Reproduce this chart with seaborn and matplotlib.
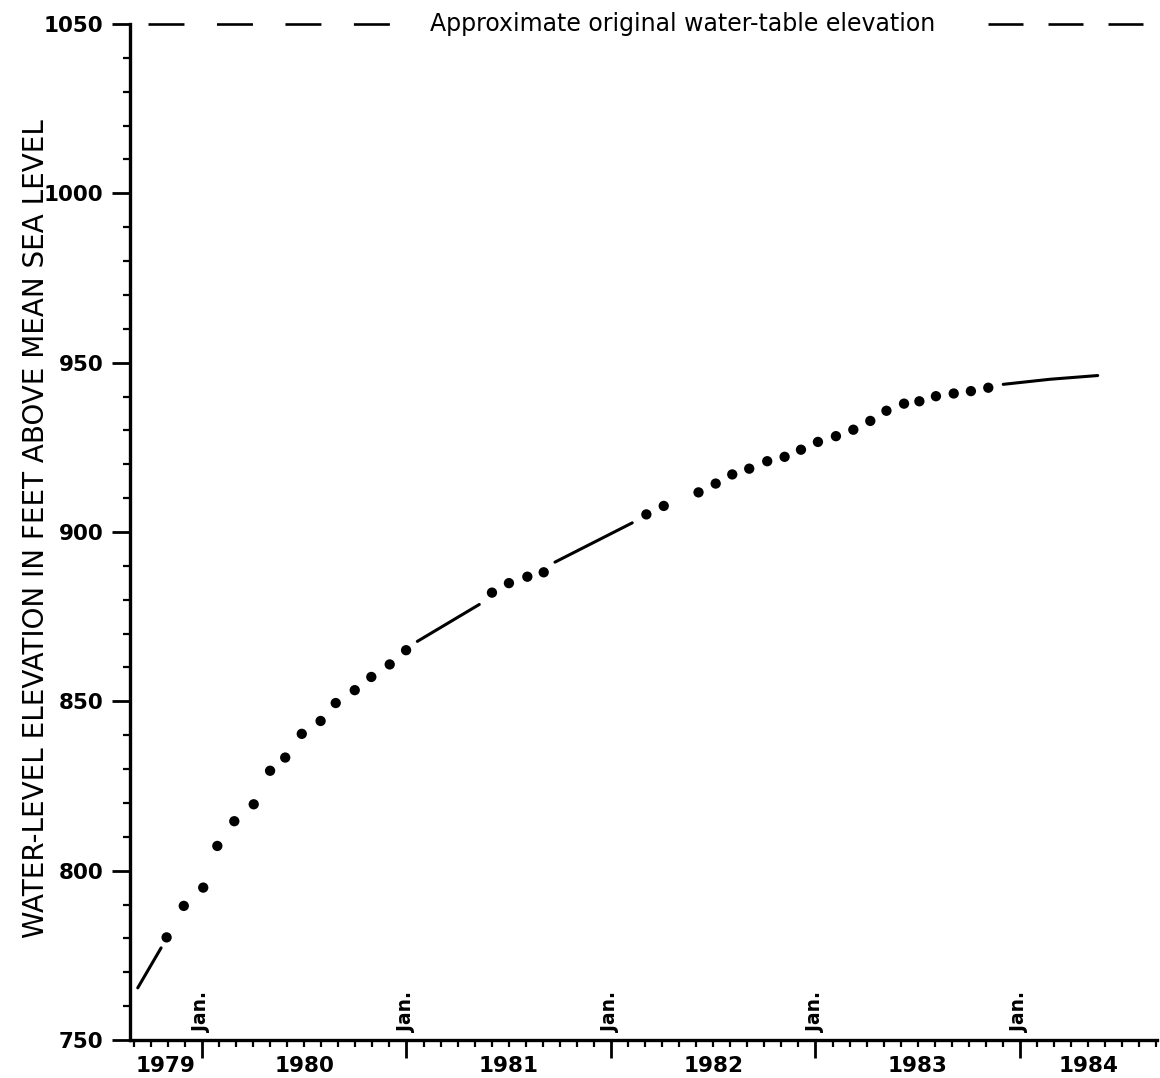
import numpy as np
import pandas as pd
import matplotlib
matplotlib.use('Agg')
import matplotlib.pyplot as plt
import seaborn as sns
from matplotlib.ticker import MultipleLocator, FixedLocator, NullFormatter

# measured water levels (decimal year, ft above msl)
dot_year = [1979.827, 1979.911, 1980.006, 1980.075, 1980.158, 1980.253, 1980.333, 1980.407,
            1980.488, 1980.580, 1980.654, 1980.747, 1980.828, 1980.918, 1980.998,
            1981.418, 1981.501, 1981.591, 1981.671,
            1982.173, 1982.258, 1982.428, 1982.512, 1982.593, 1982.676, 1982.764, 1982.849,
            1982.929, 1983.012, 1983.100, 1983.185, 1983.268, 1983.347, 1983.433, 1983.508,
            1983.589, 1983.676, 1983.760, 1983.845]
dot_level = [780.3, 789.6, 795.0, 807.3, 814.6, 819.6, 829.5, 833.4,
             840.4, 844.2, 849.5, 853.3, 857.2, 860.9, 865.1,
             882.1, 884.9, 886.8, 888.1,
             905.2, 907.7, 911.7, 914.3, 917.0, 918.7, 920.9, 922.2,
             924.3, 926.6, 928.3, 930.2, 932.8, 935.8, 937.9, 938.6,
             940.1, 940.9, 941.6, 942.6]

# continuous record segments
seg_year = [[1979.686, 1979.800], [1981.053, 1981.356], [1981.726, 1982.104],
            [1983.918, 1984.147, 1984.380]]
seg_level = [[765.4, 777.2], [867.7, 878.6], [891.1, 902.7], [943.6, 945.1, 946.2]]

original_level = 1050
original_label = 'Approximate original water-table elevation'
jan_years = [1980, 1981, 1982, 1983, 1984]
year_labels = ['1979', '1980', '1981', '1982', '1983', '1984']
y_ticks = [750, 800, 850, 900, 950, 1000, 1050]
ylabel = 'WATER-LEVEL ELEVATION IN FEET ABOVE MEAN SEA LEVEL'

x0, x1 = 1979.648, 1984.670

sns.set_theme(style='ticks')
plt.rcParams['font.family'] = ['DejaVu Sans']
plt.rcParams['lines.scale_dashes'] = False
for k in ['text.color', 'axes.labelcolor', 'xtick.color', 'ytick.color', 'axes.edgecolor']:
    plt.rcParams[k] = 'black'

fig = plt.figure(figsize=(11.6, 10.78), dpi=100)
ax = fig.add_axes([130/1160, 1 - 1040/1078, 1027/1160, 1016/1078])

df = pd.DataFrame({'year': dot_year, 'level': dot_level})
sns.scatterplot(data=df, x='year', y='level', ax=ax, color='black', s=55,
                edgecolor='none', zorder=3)
for xs, ys in zip(seg_year, seg_level):
    sns.lineplot(x=xs, y=ys, ax=ax, color='black', linewidth=2.2, zorder=3)

# dashed original water table line, broken by the label
left = [x0 + (148 - 130) / 204.5, x0 + (391 - 130) / 204.5]
right = [x0 + (988 - 130) / 204.5, x0 + (1143 - 130) / 204.5]
ax.plot(left, [original_level] * 2, color='black', lw=1.9, dashes=(25.9, 23.4), clip_on=False)
ax.plot(right, [original_level] * 2, color='black', lw=1.9, dashes=(25.2, 18), clip_on=False)
ax.text(x0 + (683 - 130) / 204.5, original_level, original_label, ha='center', va='center',
        fontsize=17, clip_on=False)

ax.set_xlim(x0, x1)
ax.set_ylim(750, 1050)
ax.yaxis.set_major_locator(FixedLocator(y_ticks))
ax.yaxis.set_minor_locator(MultipleLocator(10))
ax.xaxis.set_major_locator(FixedLocator(jan_years))
ax.xaxis.set_minor_locator(MultipleLocator(1 / 12))
ax.xaxis.set_major_formatter(NullFormatter())
ax.set_yticklabels([str(v) for v in y_ticks], fontsize=15.5, fontweight='bold')

ax.tick_params(which='major', direction='out', length=13, width=2, pad=6)
ax.tick_params(which='minor', direction='out', length=5, width=1.6)
sns.despine(ax=ax)
ax.spines['left'].set_linewidth(2.4)
ax.spines['bottom'].set_linewidth(2.4)

for yr in jan_years:
    ax.text(yr, 752.5, 'Jan.', rotation=90, ha='center', va='bottom', fontsize=13.5,
            fontweight='bold')

bounds = [x0] + jan_years + [x1]
for i, lab in enumerate(year_labels):
    xc = (bounds[i] + bounds[i + 1]) / 2
    ax.text(xc, -0.0256, lab, transform=ax.get_xaxis_transform(), ha='center', va='center',
            fontsize=15.5, fontweight='bold')

ax.set_xlabel('')
ax.set_ylabel(ylabel, fontsize=20)
ax.yaxis.set_label_coords(-0.078, 0.503)

fig.savefig('out.png', dpi=100)
